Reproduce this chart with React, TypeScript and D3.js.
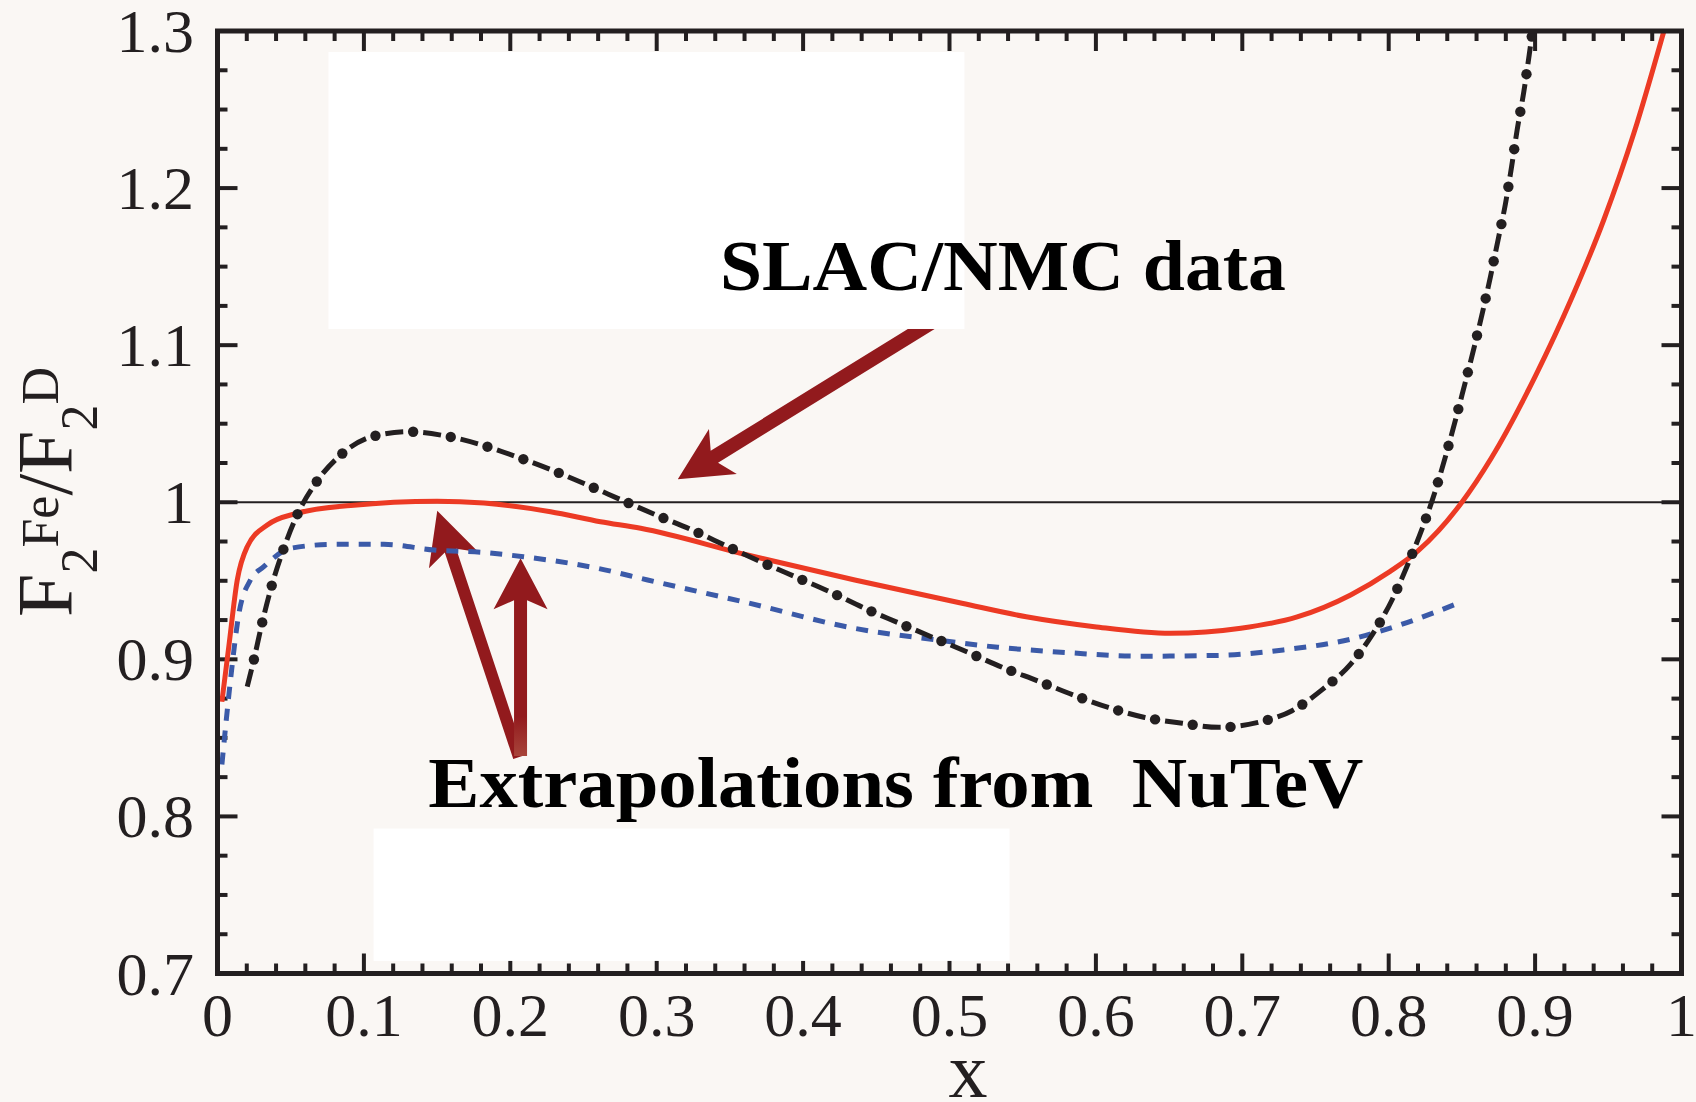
import React, { useEffect, useRef } from 'react';
import * as d3 from 'd3';

const W = 1696;
const H = 1102;
const BG = '#faf7f4';
const INK = '#231f20';
const RED = '#ec3a24';
const BLUE = '#3b5aa8';
const ARROW = '#921a1d';
const SERIF = "'Liberation Serif', 'Times New Roman', serif";

// axis ticks
const xMajor = [0, 0.1, 0.2, 0.3, 0.4, 0.5, 0.6, 0.7, 0.8, 0.9, 1];
const xLabels = ['0', '0.1', '0.2', '0.3', '0.4', '0.5', '0.6', '0.7', '0.8', '0.9', '1'];
const yMajor = [0.7, 0.8, 0.9, 1.0, 1.1, 1.2, 1.3];
const yLabels = ['0.7', '0.8', '0.9', '1', '1.1', '1.2', '1.3'];

// red solid curve
const redX = [0.003, 0.0077, 0.0135, 0.0203, 0.034, 0.0544, 0.091, 0.15, 0.182, 0.2275, 0.2616, 0.289, 0.362, 0.4353, 0.5085, 0.5524, 0.599, 0.651, 0.699, 0.7375, 0.774, 0.801, 0.82, 0.85, 0.87, 0.9, 0.925, 0.947, 0.9675, 0.988];
const redY = [0.873, 0.908, 0.9505, 0.9717, 0.9855, 0.993, 0.998, 1.0007, 0.9995, 0.994, 0.9876, 0.9834, 0.9664, 0.9505, 0.9357, 0.9271, 0.9208, 0.9166, 0.9198, 0.927, 0.941, 0.956, 0.969, 1.0, 1.028, 1.08, 1.13, 1.18, 1.235, 1.3];

// blue dashed curve
const blueX = [0.003, 0.0089, 0.0146, 0.0225, 0.0316, 0.05, 0.0795, 0.1136, 0.148, 0.182, 0.209, 0.2594, 0.2938, 0.362, 0.4353, 0.4914, 0.533, 0.5817, 0.6305, 0.683, 0.728, 0.774, 0.808, 0.85];
const blueY = [0.833, 0.887, 0.929, 0.9505, 0.959, 0.9707, 0.9732, 0.9732, 0.9696, 0.968, 0.9653, 0.958, 0.9505, 0.936, 0.9197, 0.9123, 0.9077, 0.9042, 0.902, 0.9025, 0.906, 0.9128, 0.922, 0.9367];

// black dash-dot curve (SLAC/NMC)
const blackX = [0.0203, 0.0248, 0.0305, 0.0367, 0.0446, 0.0544, 0.0669, 0.084, 0.1063, 0.1314, 0.157, 0.1815, 0.206, 0.23, 0.2536, 0.277, 0.3006, 0.325, 0.348, 0.3714, 0.3945, 0.419, 0.442, 0.465, 0.4895, 0.5126, 0.5366, 0.5605, 0.5846, 0.6085, 0.6334, 0.659, 0.684, 0.71, 0.734, 0.755, 0.774, 0.789, 0.802, 0.8126, 0.83, 0.85, 0.8695, 0.8747, 0.8798, 0.884, 0.8878, 0.8923, 0.896, 0.898];
const blackY = [0.8826, 0.8996, 0.9233, 0.9458, 0.9689, 0.9919, 1.012, 1.03, 1.042, 1.0449, 1.042, 1.0362, 1.0284, 1.0199, 1.0106, 1.001, 0.9915, 0.982, 0.972, 0.962, 0.9526, 0.9427, 0.9325, 0.9233, 0.9136, 0.9045, 0.8947, 0.8862, 0.8773, 0.8694, 0.863, 0.8593, 0.8567, 0.8597, 0.8673, 0.881, 0.897, 0.916, 0.9373, 0.9594, 1.002, 1.068, 1.1436, 1.167, 1.1903, 1.214, 1.2374, 1.2614, 1.285, 1.2985];

// annotations (data coordinates)
const slacArrowTail = [0.4973, 1.1198];
const slacArrowTip = [0.3144, 1.0146];
const nutevArrow1Tail = [0.2059, 0.8378];
const nutevArrow1Tip = [0.1501, 0.9946];
const nutevArrow2Tail = [0.207, 0.8385];
const nutevArrow2Tip = [0.207, 0.9643];
const topBox = [0.0758, 1.2866, 0.5102, 1.1103];
const bottomBox = [0.1066, 0.7923, 0.541, 0.708];
const slacLabel = 'SLAC/NMC data';
const nutevLabel = 'Extrapolations from  NuTeV';
const slacLabelPos = [0.3432, 1.1351];
const nutevLabelPos = [0.144, 0.806];

export default function App() {
  const ref = useRef<SVGSVGElement>(null);

  useEffect(() => {
    const svg = d3.select(ref.current);
    svg.selectAll('*').remove();

    const x = d3.scaleLinear().domain([0, 1]).range([217.5, 1681.5]);
    const y = d3.scaleLinear().domain([0.7, 1.3]).range([973.5, 31]);

    const defs = svg.append('defs');
    defs.append('clipPath').attr('id', 'plotClip')
      .append('rect')
      .attr('x', x(0)).attr('y', y(1.3))
      .attr('width', x(1) - x(0)).attr('height', y(0.7) - y(1.3));
    const grad = defs.append('linearGradient').attr('id', 'tailGrad')
      .attr('x1', 0).attr('y1', 0).attr('x2', 0).attr('y2', 1);
    grad.append('stop').attr('offset', '0.8').attr('stop-color', ARROW);
    grad.append('stop').attr('offset', '1').attr('stop-color', '#a8443a');

    svg.append('rect').attr('width', W).attr('height', H).attr('fill', BG);

    const arrowPts = (tailD: number[], tipD: number[], shaftW: number, headL: number, headW: number, notch: number) => {
      const tail = [x(tailD[0]), y(tailD[1])];
      const tip = [x(tipD[0]), y(tipD[1])];
      const dx = tip[0] - tail[0];
      const dy = tip[1] - tail[1];
      const len = Math.hypot(dx, dy);
      const ux = dx / len, uy = dy / len;
      const px = -uy, py = ux;
      const pts = [
        [tip[0], tip[1]],
        [tip[0] - ux * headL + px * headW / 2, tip[1] - uy * headL + py * headW / 2],
        [tip[0] - ux * notch + px * shaftW / 2, tip[1] - uy * notch + py * shaftW / 2],
        [tail[0] + px * shaftW / 2, tail[1] + py * shaftW / 2],
        [tail[0] - px * shaftW / 2, tail[1] - py * shaftW / 2],
        [tip[0] - ux * notch - px * shaftW / 2, tip[1] - uy * notch - py * shaftW / 2],
        [tip[0] - ux * headL - px * headW / 2, tip[1] - uy * headL - py * headW / 2],
      ];
      return pts.map(p => p.join(',')).join(' ');
    };

    // SLAC arrow (tail hidden under the white box)
    svg.append('polygon')
      .attr('points', arrowPts(slacArrowTail, slacArrowTip, 14, 53, 53, 43))
      .attr('fill', ARROW);

    // ticks
    const tickG = svg.append('g').attr('stroke', INK).attr('stroke-width', 4);
    const xMinor = d3.range(0, 1.0001, 0.02).filter(v => Math.abs(v * 10 - Math.round(v * 10)) > 1e-6);
    const yMinor = d3.range(0.7, 1.3001, 0.025).filter(v => Math.abs(v * 10 - Math.round(v * 10)) > 1e-6);
    const major = 20, minor = 10;
    xMajor.forEach(v => {
      tickG.append('line').attr('x1', x(v)).attr('x2', x(v)).attr('y1', y(0.7)).attr('y2', y(0.7) - major);
      tickG.append('line').attr('x1', x(v)).attr('x2', x(v)).attr('y1', y(1.3)).attr('y2', y(1.3) + major);
    });
    xMinor.forEach(v => {
      tickG.append('line').attr('x1', x(v)).attr('x2', x(v)).attr('y1', y(0.7)).attr('y2', y(0.7) - minor);
      tickG.append('line').attr('x1', x(v)).attr('x2', x(v)).attr('y1', y(1.3)).attr('y2', y(1.3) + minor);
    });
    yMajor.forEach(v => {
      tickG.append('line').attr('y1', y(v)).attr('y2', y(v)).attr('x1', x(0)).attr('x2', x(0) + major);
      tickG.append('line').attr('y1', y(v)).attr('y2', y(v)).attr('x1', x(1)).attr('x2', x(1) - major);
    });
    yMinor.forEach(v => {
      tickG.append('line').attr('y1', y(v)).attr('y2', y(v)).attr('x1', x(0)).attr('x2', x(0) + minor);
      tickG.append('line').attr('y1', y(v)).attr('y2', y(v)).attr('x1', x(1)).attr('x2', x(1) - minor);
    });

    // white boxes
    [topBox, bottomBox].forEach(b => {
      svg.append('rect')
        .attr('x', x(b[0])).attr('y', y(b[1]))
        .attr('width', x(b[2]) - x(b[0])).attr('height', y(b[3]) - y(b[1]))
        .attr('fill', '#ffffff');
    });

    // y = 1 reference line
    svg.append('line')
      .attr('x1', x(0)).attr('x2', x(1)).attr('y1', y(1)).attr('y2', y(1))
      .attr('stroke', INK).attr('stroke-width', 2);

    // NuTeV arrows
    svg.append('polygon')
      .attr('points', arrowPts(nutevArrow1Tail, nutevArrow1Tip, 12, 52, 52, 42))
      .attr('fill', ARROW);
    svg.append('polygon')
      .attr('points', arrowPts(nutevArrow2Tail, nutevArrow2Tip, 13, 51, 54, 42))
      .attr('fill', 'url(#tailGrad)');

    const curves = svg.append('g').attr('clip-path', 'url(#plotClip)');
    const mk = (xs: number[], ys: number[]) => xs.map((v, i) => [v, ys[i]] as [number, number]);
    const line = d3.line<[number, number]>()
      .x(d => x(d[0])).y(d => y(d[1]))
      .curve(d3.curveMonotoneX);

    curves.append('path').attr('d', line(mk(blueX, blueY)))
      .attr('fill', 'none').attr('stroke', BLUE).attr('stroke-width', 5)
      .attr('stroke-dasharray', '12 10');

    curves.append('path').attr('d', line(mk(redX, redY)))
      .attr('fill', 'none').attr('stroke', RED).attr('stroke-width', 5)
      .attr('stroke-linejoin', 'round');

    const blackPath = curves.append('path').attr('d', line(mk(blackX, blackY)))
      .attr('fill', 'none').attr('stroke', INK).attr('stroke-width', 5)
      .attr('stroke-dasharray', '18 20');
    const node = blackPath.node() as SVGPathElement;
    const total = node.getTotalLength();
    for (let s = 28; s < total; s += 38) {
      const p = node.getPointAtLength(s);
      curves.append('circle').attr('cx', p.x).attr('cy', p.y).attr('r', 5.2).attr('fill', INK);
    }

    // frame
    svg.append('rect')
      .attr('x', x(0)).attr('y', y(1.3))
      .attr('width', x(1) - x(0)).attr('height', y(0.7) - y(1.3))
      .attr('fill', 'none').attr('stroke', INK).attr('stroke-width', 5);

    // tick labels
    const lab = svg.append('g').attr('font-family', SERIF).attr('font-size', 62).attr('fill', INK);
    xMajor.forEach((v, i) => {
      lab.append('text').attr('x', x(v)).attr('y', 1036).attr('text-anchor', 'middle').text(xLabels[i]);
    });
    yMajor.forEach((v, i) => {
      lab.append('text').attr('x', 194).attr('y', y(v) + 21).attr('text-anchor', 'end').text(yLabels[i]);
    });

    // x title
    svg.append('text').attr('x', 968).attr('y', 1097).attr('text-anchor', 'middle')
      .attr('font-family', SERIF).attr('font-size', 78).attr('fill', INK).text('x');

    // y title
    const yt = svg.append('text')
      .attr('transform', 'translate(71,617) rotate(-90)')
      .attr('font-family', SERIF).attr('fill', INK);
    const parts: [string, number, number][] = [
      ['F', 78, 0], ['2', 52, 26], ['Fe', 52, -39], ['/', 78, 13], ['F', 78, 0], ['2', 52, 26], ['D', 52, -39],
    ];
    parts.forEach(([t, fs, dy]) => {
      yt.append('tspan').attr('font-size', fs).attr('dy', dy).text(t);
    });

    // annotation labels
    svg.append('text')
      .attr('x', x(slacLabelPos[0])).attr('y', y(slacLabelPos[1]))
      .attr('font-family', SERIF).attr('font-weight', 'bold').attr('font-size', 71)
      .attr('fill', '#000').attr('textLength', 566).attr('lengthAdjust', 'spacingAndGlyphs')
      .text(slacLabel);
    svg.append('text')
      .attr('x', x(nutevLabelPos[0])).attr('y', y(nutevLabelPos[1]))
      .attr('font-family', SERIF).attr('font-weight', 'bold').attr('font-size', 71)
      .attr('fill', '#000').attr('textLength', 935).attr('lengthAdjust', 'spacingAndGlyphs')
      .style('white-space', 'pre')
      .text(nutevLabel);
  }, []);

  return (
    <svg
      ref={ref}
      width={W}
      height={H}
      viewBox={`0 0 ${W} ${H}`}
      style={{ position: 'absolute', left: 0, top: 0, display: 'block' }}
    />
  );
}
